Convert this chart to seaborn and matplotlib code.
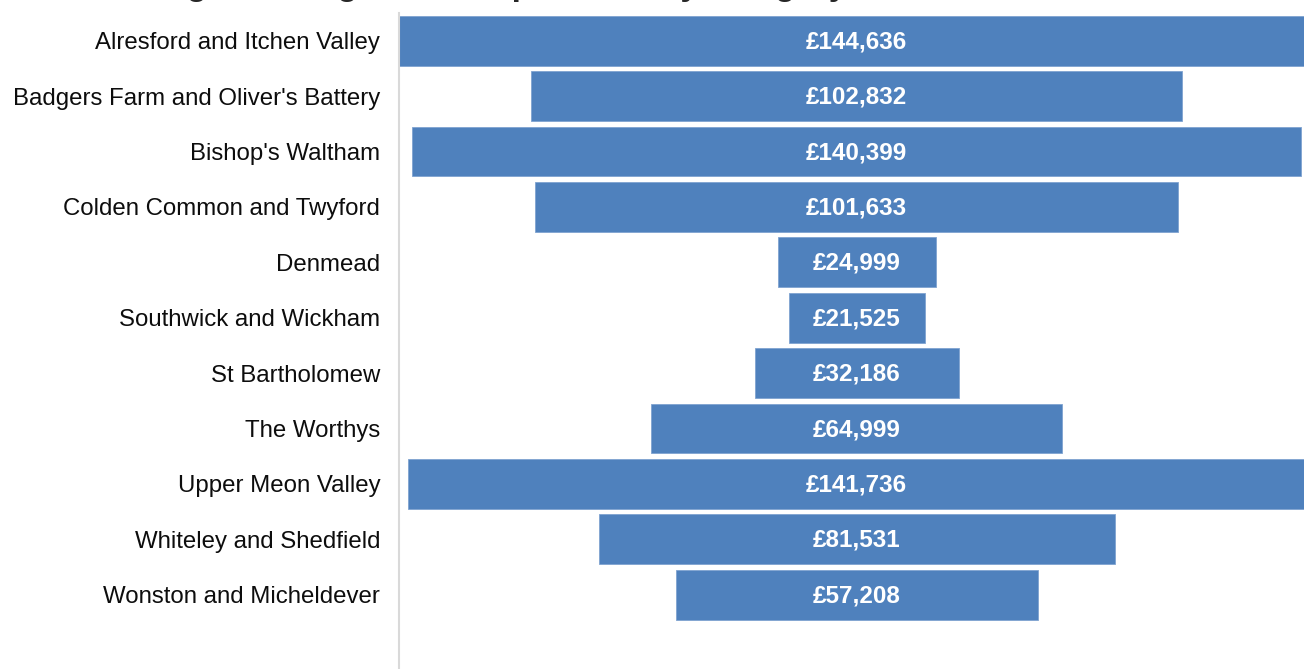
import numpy as np
import pandas as pd
import matplotlib.pyplot as plt
import seaborn as sns

# Values per ward
wards = [
    "Alresford and Itchen Valley",
    "Badgers Farm and Oliver's Battery",
    "Bishop's Waltham",
    "Colden Common and Twyford",
    "Denmead",
    "Southwick and Wickham",
    "St Bartholomew",
    "The Worthys",
    "Upper Meon Valley",
    "Whiteley and Shedfield",
    "Wonston and Micheldever",
]
amounts = [144636, 102832, 140399, 101633, 24999, 21525, 32186, 64999, 141736, 81531, 57208]

title = "Average funding awarded per ward by category"

bar_blue = "#4F81BD"

df = pd.DataFrame({"ward": wards, "amount": amounts})
top = df["amount"].max()
# funnel: invisible spacer on the left so each bar is centred
df["spacer"] = (top - df["amount"]) / 2

sns.set_style("white")
plt.rcParams["font.family"] = ["Liberation Sans", "DejaVu Sans"]

fig = plt.figure(figsize=(13.04, 6.69), dpi=100)
ax = fig.add_axes([399 / 1304, 0, (1304 - 399) / 1304, (669 - 13) / 669])

sns.barplot(data=df, x="amount", y="ward", color=bar_blue, saturation=1,
            width=0.9, edgecolor="#7FA3D0", linewidth=0.6,
            left=df["spacer"].to_numpy(), ax=ax)

for i, row in df.iterrows():
    ax.text(row["spacer"] + row["amount"] / 2, i + 0.02, f"£{row['amount']:,}",
            ha="center", va="center", color="white", fontsize=17.5, fontweight="bold")

ax.set_xlim(0, 905 / 0.00633)
ax.set_ylim(len(wards) - 0.5 + 0.84, -0.5)
ax.set_xlabel("")
ax.set_ylabel("")
ax.set_xticks([])
ax.tick_params(axis="y", length=0, pad=13.5, labelsize=17.3, labelcolor="#0d0d0d")
for s in ["top", "right", "bottom"]:
    ax.spines[s].set_visible(False)
ax.spines["left"].set_color("#D9D9D9")
ax.spines["left"].set_linewidth(1.5)

fig.text(95 / 1304, 1 + 5 / 669, title, fontsize=24, fontweight="bold",
         ha="left", va="baseline")

fig.savefig("out.png", dpi=100)
